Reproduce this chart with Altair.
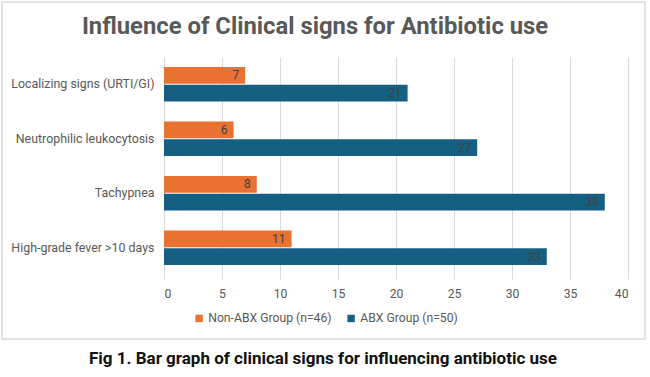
import altair as alt
import pandas as pd

# Clinical signs and patient counts per group
signs = [
    "Localizing signs (URTI/GI)",
    "Neutrophilic leukocytosis",
    "Tachypnea",
    "High-grade fever >10 days",
]
non_abx = [7, 6, 8, 11]
abx = [21, 27, 38, 33]
groups = ["Non-ABX Group (n=46)", "ABX Group (n=50)"]
colors = ["#E97132", "#156082"]
x_ticks = [0, 5, 10, 15, 20, 25, 30, 35, 40]

rows = []
for s, a, b in zip(signs, non_abx, abx):
    rows.append({"sign": s, "group": groups[0], "count": a})
    rows.append({"sign": s, "group": groups[1], "count": b})
df = pd.DataFrame(rows)

FONT = "Roboto"
GRAY = "#595959"

W, H = 464, 218
LEFT, TOP = 164, 57

base = alt.Chart(df).encode(
    y=alt.Y(
        "sign:N",
        sort=signs,
        title=None,
        scale=alt.Scale(paddingInner=0.37, paddingOuter=0.185),
        axis=alt.Axis(
            domain=False, ticks=False, labelPadding=10, labelFont=FONT,
            labelFontSize=12.4, labelColor=GRAY, labelLimit=200,
        ),
    ),
    yOffset=alt.YOffset("group:N", sort=groups, scale=alt.Scale(paddingInner=0.06)),
)

bars = base.mark_bar().encode(
    x=alt.X(
        "count:Q",
        title=None,
        scale=alt.Scale(domain=[0, 40], nice=False),
        axis=alt.Axis(
            values=x_ticks, grid=True, gridColor="#D9D9D9", domain=False,
            ticks=True, tickColor="#D9D9D9", tickSize=4, labelPadding=8,
            labelFont=FONT, labelFontSize=12.2, labelColor=GRAY,
        ),
    ),
    color=alt.Color(
        "group:N",
        sort=groups,
        scale=alt.Scale(domain=groups, range=colors),
        legend=alt.Legend(
            title=None, orient="none", direction="horizontal",
            legendX=29, legendY=255, symbolType="square", symbolSize=55,
            symbolStrokeWidth=0, labelFont=FONT, labelFontSize=12.2,
            labelColor=GRAY, columnPadding=13, labelOffset=3,
        ),
    ),
)

labels = base.mark_text(
    align="right", baseline="middle", dx=-6, font=FONT, fontSize=12,
    color="#404040",
).encode(x="count:Q", text="count:Q")

frame = alt.Chart(pd.DataFrame({"k": [0]})).mark_rect(
    fill=None, stroke="#D9D9D9", strokeWidth=1.5
).encode(
    x=alt.value(2 - LEFT), x2=alt.value(645 - LEFT),
    y=alt.value(2 - TOP), y2=alt.value(339 - TOP),
)

caption = alt.Chart(pd.DataFrame({"t": ["Fig 1. Bar graph of clinical signs for influencing antibiotic use"]})).mark_text(
    font=FONT, fontSize=17, fontWeight="bold", color="#111111",
    align="center", baseline="middle",
).encode(x=alt.value(323 - LEFT), y=alt.value(359 - TOP), text="t:N")

heading = alt.Chart(pd.DataFrame({"t": ["Influence of Clinical signs for Antibiotic use"]})).mark_text(
    font=FONT, fontSize=23.8, fontWeight="bold", color=GRAY,
    align="center", baseline="middle",
).encode(x=alt.value(315 - LEFT), y=alt.value(27 - TOP), text="t:N")

chart = (
    alt.layer(frame, bars, labels, heading, caption)
    .properties(
        width=W, height=H,
        padding={"left": LEFT, "top": TOP, "right": 650 - LEFT - W, "bottom": 377 - TOP - H},
        autosize=alt.AutoSizeParams(type="none"),
        background="white",
    )
    .configure_view(stroke=None)
)

chart.save("out.html", embed_options={"renderer": "svg", "actions": False})
